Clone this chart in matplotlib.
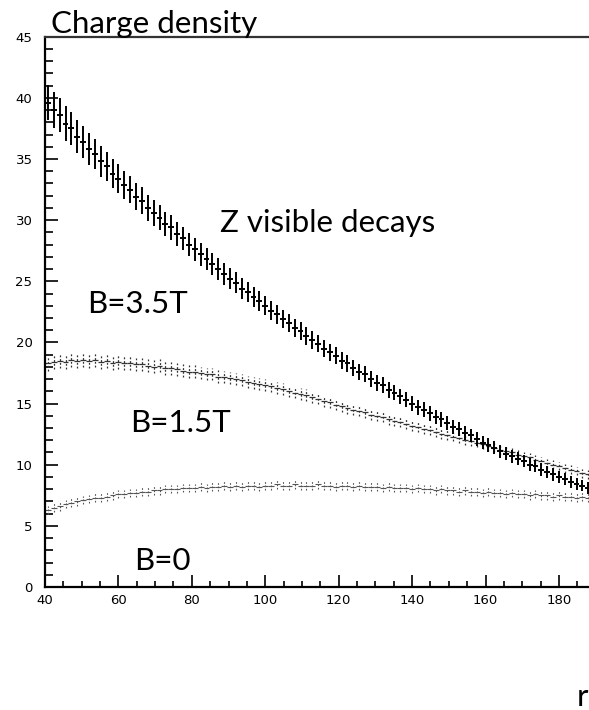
import numpy as np
import matplotlib
matplotlib.use("Agg")
import matplotlib.pyplot as plt
from matplotlib.ticker import MultipleLocator

# histogram binning: bins of width 1.6 starting at r=40
r_lo, bin_w = 40.0, 1.6
r_view = 190.0

# B = 3.5 T
rho_35 = [39.6, 39.0, 38.6, 37.9, 37.5, 36.8, 36.4, 35.8, 35.4, 34.8,
          34.4, 33.8, 33.4, 32.9, 32.5, 31.9, 31.6, 31.0, 30.6, 30.2,
          29.7, 29.4, 28.9, 28.5, 28.0, 27.6, 27.2, 26.8, 26.4, 26.0,
          25.6, 25.2, 24.9, 24.4, 24.1, 23.7, 23.4, 23.0, 22.6, 22.3,
          21.9, 21.6, 21.2, 20.9, 20.5, 20.2, 19.9, 19.5, 19.2, 18.9,
          18.5, 18.3, 17.9, 17.6, 17.4, 17.0, 16.7, 16.5, 16.1, 15.9,
          15.6, 15.3, 15.0, 14.7, 14.5, 14.2, 13.9, 13.7, 13.4, 13.1,
          12.9, 12.6, 12.4, 12.1, 11.8, 11.6, 11.4, 11.1, 10.9, 10.7,
          10.5, 10.3, 10.0, 9.9, 9.6, 9.4, 9.2, 9.0, 8.8, 8.6,
          8.4, 8.3, 8.1, 7.9]
err_35 = [1.45, 1.45, 1.40, 1.40, 1.35, 1.35, 1.30, 1.30, 1.25, 1.25,
          1.20, 1.20, 1.15, 1.15, 1.10, 1.10, 1.10, 1.05, 1.05, 1.00,
          1.00, 1.00, 0.98, 0.95, 0.95, 0.93, 0.92, 0.90, 0.90, 0.88,
          0.87, 0.85, 0.85, 0.83, 0.82, 0.80, 0.80, 0.78, 0.78, 0.77,
          0.76, 0.75, 0.75, 0.74, 0.73, 0.72, 0.72, 0.71, 0.70, 0.70,
          0.69, 0.68, 0.68, 0.67, 0.66, 0.66, 0.65, 0.65, 0.64, 0.63,
          0.63, 0.62, 0.62, 0.61, 0.60, 0.60, 0.59, 0.59, 0.58, 0.58,
          0.57, 0.57, 0.56, 0.56, 0.55, 0.55, 0.54, 0.54, 0.53, 0.53,
          0.52, 0.52, 0.51, 0.51, 0.50, 0.50, 0.50, 0.49, 0.49, 0.48,
          0.48, 0.47, 0.47, 0.46]

# B = 1.5 T
rho_15 = [18.3, 18.4, 18.5, 18.4, 18.6, 18.5, 18.6, 18.5, 18.6, 18.4,
          18.5, 18.3, 18.4, 18.3, 18.3, 18.2, 18.2, 18.1, 18.0, 18.1,
          17.9, 17.9, 17.8, 17.7, 17.6, 17.6, 17.5, 17.4, 17.4, 17.2,
          17.2, 17.1, 17.0, 16.9, 16.8, 16.7, 16.6, 16.5, 16.4, 16.3,
          16.2, 16.0, 15.9, 15.8, 15.7, 15.5, 15.4, 15.2, 15.1, 14.9,
          14.8, 14.6, 14.5, 14.4, 14.3, 14.1, 14.0, 13.9, 13.7, 13.6,
          13.5, 13.3, 13.2, 13.1, 12.9, 12.8, 12.7, 12.5, 12.4, 12.3,
          12.2, 12.0, 11.9, 11.8, 11.7, 11.5, 11.4, 11.2, 11.1, 11.0,
          10.8, 10.7, 10.6, 10.4, 10.3, 10.1, 10.0, 9.9, 9.7, 9.6,
          9.5, 9.3, 9.2, 9.1]
err_15 = [0.60, 0.60, 0.60, 0.59, 0.59, 0.59, 0.58, 0.58, 0.58, 0.57,
          0.57, 0.57, 0.56, 0.56, 0.56, 0.55, 0.55, 0.55, 0.54, 0.54,
          0.54, 0.53, 0.53, 0.53, 0.52, 0.52, 0.52, 0.51, 0.51, 0.51,
          0.50, 0.50, 0.50, 0.50, 0.49, 0.49, 0.49, 0.48, 0.48, 0.48,
          0.47, 0.47, 0.47, 0.47, 0.46, 0.46, 0.46, 0.45, 0.45, 0.45,
          0.45, 0.44, 0.44, 0.44, 0.44, 0.43, 0.43, 0.43, 0.43, 0.42,
          0.42, 0.42, 0.42, 0.41, 0.41, 0.41, 0.41, 0.40, 0.40, 0.40,
          0.40, 0.40, 0.39, 0.39, 0.39, 0.39, 0.38, 0.38, 0.38, 0.38,
          0.37, 0.37, 0.37, 0.37, 0.36, 0.36, 0.36, 0.36, 0.35, 0.35,
          0.35, 0.35, 0.35, 0.35]

# B = 0
rho_0 = [6.3, 6.5, 6.6, 6.8, 6.9, 7.0, 7.1, 7.2, 7.3, 7.3,
         7.4, 7.5, 7.6, 7.6, 7.7, 7.7, 7.8, 7.8, 7.9, 7.9,
         8.0, 8.0, 8.0, 8.1, 8.1, 8.1, 8.2, 8.1, 8.2, 8.2,
         8.3, 8.2, 8.3, 8.2, 8.3, 8.3, 8.2, 8.3, 8.3, 8.4,
         8.3, 8.3, 8.4, 8.3, 8.3, 8.3, 8.4, 8.3, 8.3, 8.2,
         8.3, 8.3, 8.2, 8.3, 8.2, 8.2, 8.2, 8.1, 8.2, 8.1,
         8.1, 8.1, 8.0, 8.1, 8.0, 8.0, 7.9, 8.0, 7.9, 7.9,
         7.8, 7.9, 7.8, 7.8, 7.7, 7.8, 7.7, 7.7, 7.6, 7.7,
         7.6, 7.6, 7.5, 7.6, 7.5, 7.5, 7.4, 7.5, 7.4, 7.4,
         7.3, 7.4, 7.3, 7.3]
err_0 = [0.35] * len(rho_0)

labels = ["Z visible decays", "B=3.5T", "B=1.5T", "B=0"]

W, H = 589, 710
px_per_unit = 3.671
fig = plt.figure(figsize=(W / 100, H / 100), dpi=100)
ax = fig.add_axes([45 / W, 123 / H, (r_view - r_lo) * px_per_unit / W, 550.3 / H])

def centers(vals):
    return r_lo + bin_w * (np.arange(len(vals)) + 0.5)

def draw(vals, errs, color, lw, dotted):
    x = centers(vals)
    pl, caps, bars = ax.errorbar(x, vals, yerr=errs, xerr=bin_w / 2, fmt="none",
                                 ecolor=color, elinewidth=lw, capsize=0)
    if dotted:
        bars[1].set_linestyle((0, (1.5, 1.5)))
    return bars

draw(rho_0, err_0, "#555555", 0.8, True)
draw(rho_15, err_15, "#333333", 0.9, True)
draw(rho_35, err_35, "black", 1.4, False)

ax.set_xlim(r_lo, r_view)
ax.set_ylim(0, 45)
ax.xaxis.set_major_locator(MultipleLocator(20))
ax.xaxis.set_minor_locator(MultipleLocator(5))
ax.yaxis.set_major_locator(MultipleLocator(5))
ax.yaxis.set_minor_locator(MultipleLocator(1))
ax.tick_params(which="both", direction="in", top=False, right=False,
               width=1.2, labelsize=9.5, colors="black")
ax.tick_params(axis="y", which="major", length=9, pad=9)
ax.tick_params(axis="y", which="minor", length=6)
ax.tick_params(axis="x", which="major", length=9, pad=5)
ax.tick_params(axis="x", which="minor", length=4.5)
for lab in ax.get_xticklabels() + ax.get_yticklabels():
    lab.set_fontfamily("DejaVu Sans")
for s in ["left", "bottom"]:
    ax.spines[s].set_linewidth(1.6)
ax.spines["top"].set_linewidth(1.6)
ax.spines["top"].set_color("#333333")
ax.spines["right"].set_visible(False)

big = dict(family="Lato", fontsize=22.5, color="black", va="baseline", ha="left")
fig.text(51 / W, 1 - 33 / H, "Charge density", **big)
fig.text(220 / W, 1 - 232 / H, labels[0], **big)
fig.text(87 / W, 1 - 313 / H, labels[1], **big)
fig.text(130 / W, 1 - 432 / H, labels[2], **big)
fig.text(134 / W, 1 - 570 / H, labels[3], **big)
fig.text(577 / W, 1 - 706 / H, "r", **big)

fig.savefig("out.png", dpi=100)
